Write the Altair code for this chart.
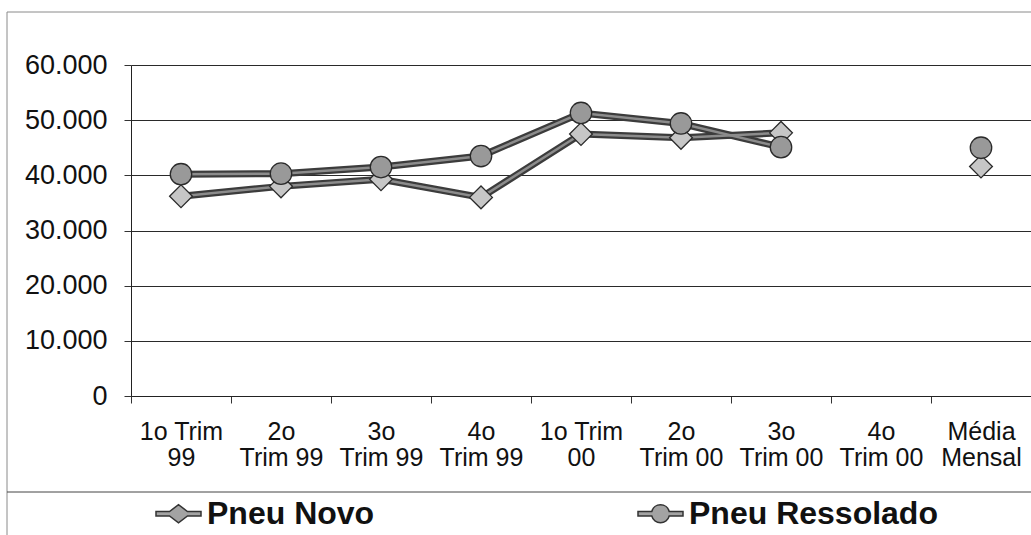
import json
import altair as alt
import pandas as pd

# ---- data ----
categories = ["1o Trim 99", "2o Trim 99", "3o Trim 99", "4o Trim 99",
              "1o Trim 00", "2o Trim 00", "3o Trim 00", "4o Trim 00", "Média Mensal"]
label_lines = [["1o Trim", "99"], ["2o", "Trim 99"], ["3o", "Trim 99"], ["4o", "Trim 99"],
               ["1o Trim", "00"], ["2o", "Trim 00"], ["3o", "Trim 00"], ["4o", "Trim 00"],
               ["Média", "Mensal"]]
series = ["Pneu Novo", "Pneu Ressolado"]
pneu_novo = [36200, 38000, 39300, 36000, 47500, 46800, 47700, None, 41600]
pneu_ressolado = [40200, 40300, 41500, 43500, 51300, 49400, 45100, None, 45000]
y_ticks = [0, 10000, 20000, 30000, 40000, 50000, 60000]

rows = []
for s, vals in zip(series, [pneu_novo, pneu_ressolado]):
    for c, v in zip(categories, vals):
        rows.append({"cat": c, "serie": s, "valor": v})
df = pd.DataFrame(rows)

# multi-line x labels
expr = ""
for c, lines in zip(categories, label_lines):
    expr += f"datum.value == {json.dumps(c, ensure_ascii=False)} ? {json.dumps(lines, ensure_ascii=False)} : "
expr += "datum.label"

FONT = "Liberation Sans"

diamond_leg = "M-1,-0.1L-0.4,-0.1L0,-0.4L0.4,-0.1L1,-0.1L1,0.1L0.4,0.1L0,0.4L-0.4,0.1L-1,0.1Z"
circle_leg = ("M-1,-0.1L-0.387,-0.1A0.4,0.4 0 0,1 0.387,-0.1L1,-0.1L1,0.1L0.387,0.1"
              "A0.4,0.4 0 0,1 -0.387,0.1L-1,0.1Z")

x_enc = alt.X("cat:N", sort=categories, bandPosition=0.5,
              scale=alt.Scale(type="band", domain=categories, paddingInner=0, paddingOuter=0),
              axis=alt.Axis(title=None, labelExpr=expr, labelAngle=0, labelFont=FONT,
                            labelFontSize=25, labelLineHeight=26, labelColor="#111",
                            labelPadding=16, tickBand="extent", tickSize=7, tickColor="#333",
                            domainColor="#222", grid=False, labelOverlap=False))
y_enc = alt.Y("valor:Q", scale=alt.Scale(domain=[0, 60000], nice=False, zero=True),
              axis=alt.Axis(title=None, values=y_ticks,
                            labelExpr="replace(format(datum.value, ','), ',', '.')",
                            labelFont=FONT, labelFontSize=27, labelColor="#111",
                            labelPadding=17, tickSize=7, tickColor="#333",
                            domainColor="#222", gridColor="#2a2a2a", gridWidth=1))

base = alt.Chart(df)

line_outer = base.mark_line(color="#3c3c3c", strokeWidth=7,
                            invalid="break-paths-show-domains").encode(
    x=x_enc, y=y_enc, detail="serie:N")
line_inner = base.mark_line(color="#8c8c8c", strokeWidth=2.5,
                            invalid="break-paths-show-domains").encode(
    x=x_enc, y=y_enc, detail="serie:N")

points = base.transform_filter("isValid(datum.valor)").mark_point(
    filled=True, stroke="#2a2a2a", strokeWidth=1.3, opacity=1).encode(
    x=x_enc, y=y_enc,
    shape=alt.Shape("serie:N", scale=alt.Scale(domain=series, range=["diamond", "circle"]), legend=None),
    fill=alt.Fill("serie:N", scale=alt.Scale(domain=series, range=["#c6c6c6", "#999999"]), legend=None),
    size=alt.Size("serie:N", scale=alt.Scale(domain=series, range=[520, 460]), legend=None),
)

legend_layer = base.transform_filter("isValid(datum.valor)").mark_point(
    filled=True, fill="#a3a3a3", stroke="#333333", strokeWidth=1.2, opacity=0).encode(
    x=x_enc, y=y_enc,
    shape=alt.Shape("serie:N", scale=alt.Scale(domain=series, range=[diamond_leg, circle_leg]),
                    legend=alt.Legend(title=None, orient="none", legendX=24, legendY=425,
                                      direction="horizontal", columns=2, columnPadding=260,
                                      symbolSize=2025, symbolOpacity=1, labelOffset=5,
                                      labelFont=FONT, labelFontSize=32, labelFontWeight="bold",
                                      labelColor="#111", labelLimit=400)),
)

frame = alt.Chart(pd.DataFrame({"a": [0]})).mark_rect(
    filled=False, stroke="#8a8a8a", strokeWidth=1).encode(
    x=alt.value(-124), x2=alt.value(1000), y=alt.value(-53), y2=alt.value(600))
sep = alt.Chart(pd.DataFrame({"a": [0]})).mark_rule(
    stroke="#444", strokeWidth=1).encode(
    x=alt.value(-124), x2=alt.value(1000), y=alt.value(427))

chart = alt.layer(frame, sep, line_outer, line_inner, points, legend_layer).resolve_scale(
    shape="independent", fill="independent", size="independent"
).properties(
    width=900, height=331,
    autosize=alt.AutoSizeParams(type="none"),
    padding={"left": 131, "top": 65, "right": 0, "bottom": 139},
).configure_view(stroke=None).configure(background="white")

chart.save("out.html", embed_options={"renderer": "svg", "actions": False})
